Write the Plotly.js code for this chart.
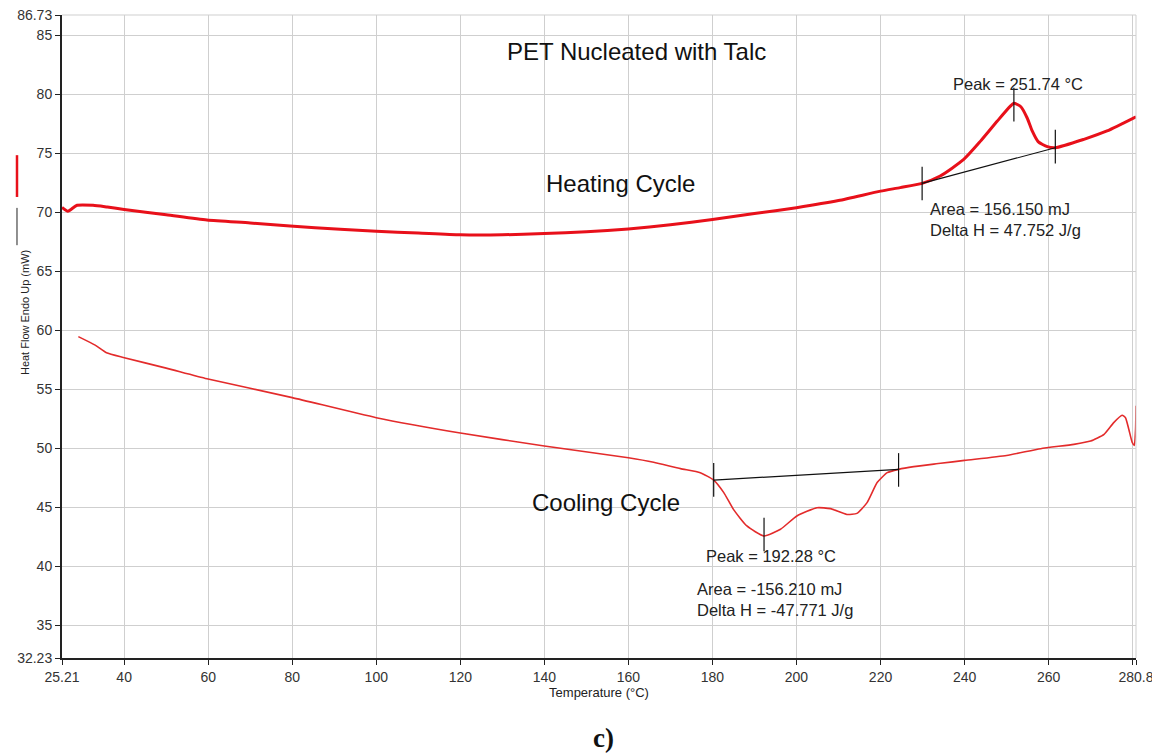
<!DOCTYPE html>
<html>
<head>
<meta charset="utf-8">
<script src="https://cdn.plot.ly/plotly-3.0.1.min.js"></script>
<style>html,body{margin:0;padding:0;background:#fff;}#chart{width:1152px;height:753px;}</style>
</head>
<body>
<div id="chart"></div>
<script>
// Heating cycle (°C, mW)
const heatT = [25.21, 26.6, 28.8, 32.6, 36, 40, 50, 59.7, 70, 79.5, 91.4, 100, 110, 120, 130, 140, 150, 160, 170, 180, 190, 200, 210, 220, 224.7, 229.9, 234.2, 239.8, 243.8, 247.8, 250.9, 251.74, 253.4, 254.9, 256.1, 257.5, 259.7, 261.6, 268.4, 273.9, 280.8];
const heatV = [70.42, 70.1, 70.6, 70.6, 70.45, 70.25, 69.8, 69.35, 69.1, 68.84, 68.56, 68.4, 68.25, 68.1, 68.1, 68.2, 68.35, 68.6, 68.95, 69.4, 69.9, 70.4, 71.0, 71.8, 72.1, 72.46, 73.08, 74.49, 76.04, 77.74, 79.0, 79.25, 78.95, 78.0, 76.9, 76.0, 75.57, 75.48, 76.19, 76.9, 78.1];
// Cooling cycle
const coolT = [29.1, 33.1, 35.8, 39.8, 50, 59.7, 80, 100, 120, 140, 160, 166, 172.4, 177.1, 180.3, 182.7, 185.0, 188.2, 192.28, 196.2, 200.1, 204.9, 208.1, 212.0, 214.4, 216.8, 219.2, 221.6, 224.3, 227.9, 234.3, 240, 250, 258.1, 266.0, 270.0, 273.2, 275.5, 277.5, 278.3, 279.1, 279.9, 280.4, 280.7, 280.8];
const coolV = [59.47, 58.75, 58.1, 57.7, 56.8, 55.9, 54.3, 52.6, 51.3, 50.2, 49.2, 48.82, 48.28, 47.94, 47.31, 46.25, 44.83, 43.42, 42.57, 43.14, 44.27, 44.97, 44.89, 44.4, 44.49, 45.4, 47.1, 47.94, 48.22, 48.45, 48.73, 48.98, 49.4, 49.97, 50.34, 50.62, 51.19, 52.18, 52.8, 52.6, 51.6, 50.5, 50.25, 51.6, 53.6];
// Integration baselines
const heatBaseT = [229.9, 261.6];
const heatBaseV = [72.46, 75.48];
const coolBaseT = [180.3, 224.3];
const coolBaseV = [47.31, 48.22];
// Limit / peak tick marks
const tickT = [229.9, 251.74, 261.6, 180.3, 192.28, 224.3];
const tickV = [72.45, 79.13, 75.57, 47.33, 42.7, 48.17];
// Axis ticks
const xTicks = [25.21, 40, 60, 80, 100, 120, 140, 160, 180, 200, 220, 240, 260, 280, 280.8];
const xTickText = ['25.21', '40', '60', '80', '100', '120', '140', '160', '180', '200', '220', '240', '260', '', '280.8'];
const yTicks = [32.23, 35, 40, 45, 50, 55, 60, 65, 70, 75, 80, 85, 86.73];
const yTickText = ['32.23', '35', '40', '45', '50', '55', '60', '65', '70', '75', '80', '85', '86.73'];

const F = 'Arial, "Liberation Sans", sans-serif';
const traces = [
  {x: heatT, y: heatV, mode: 'lines', line: {color: '#e8101a', width: 3, shape: 'spline', smoothing: 0.6}, hoverinfo: 'skip'},
  {x: coolT, y: coolV, mode: 'lines', line: {color: '#e32b2b', width: 1.6, shape: 'spline', smoothing: 0.5}, hoverinfo: 'skip'},
  {x: heatBaseT, y: heatBaseV, mode: 'lines', line: {color: '#111', width: 1.2}},
  {x: coolBaseT, y: coolBaseV, mode: 'lines', line: {color: '#111', width: 1.2}},
  {x: tickT, y: tickV, mode: 'markers', marker: {symbol: 'line-ns', size: 24, line: {color: '#111', width: 1.2}}}
];

const layout = {
  width: 1152, height: 753,
  margin: {l: 62, r: 16, t: 15, b: 95},
  paper_bgcolor: '#fff', plot_bgcolor: '#fff',
  showlegend: false,
  font: {family: F, size: 12, color: '#222'},
  xaxis: {
    range: [25.21, 280.8], tickvals: xTicks, ticktext: xTickText,
    showgrid: true, gridcolor: '#cfcfcf', gridwidth: 1,
    showline: true, linecolor: '#222', linewidth: 2,
    ticks: 'outside', ticklen: 5, tickcolor: '#222',
    ticklabeloverflow: 'allow',
    tickfont: {family: F, size: 14, color: '#333'}, zeroline: false,
    title: {text: 'Temperature (°C)', font: {family: F, size: 13, color: '#222'}, standoff: 2}
  },
  yaxis: {
    range: [32.23, 86.73], tickvals: yTicks, ticktext: yTickText,
    showgrid: true, gridcolor: '#cfcfcf', gridwidth: 1,
    showline: true, linecolor: '#222', linewidth: 2,
    ticks: 'outside', ticklen: 5, tickcolor: '#222',
    ticklabeloverflow: 'allow',
    tickfont: {family: F, size: 14, color: '#333'}, zeroline: false
  },
  shapes: [
    {type: 'line', xref: 'paper', yref: 'paper', x0: -0.0419, x1: -0.0419, y0: 0.717, y1: 0.782, line: {color: '#e8101a', width: 2.5}},
    {type: 'line', xref: 'paper', yref: 'paper', x0: -0.0419, x1: -0.0419, y0: 0.642, y1: 0.700, line: {color: '#222', width: 1}},
    {type: 'line', xref: 'paper', yref: 'paper', x0: 1, x1: 1, y0: 0, y1: 1, line: {color: '#cfcfcf', width: 1}},
    {type: 'line', xref: 'paper', yref: 'paper', x0: 0, x1: 1, y0: 1, y1: 1, line: {color: '#cfcfcf', width: 1}}
  ],
  annotations: [
    {xref: 'paper', yref: 'paper', x: -0.0419, y: 0.538, text: 'Heat Flow Endo Up (mW)', textangle: -90, showarrow: false, font: {family: F, size: 11, color: '#222'}},
    {x: 161.9, y: 83.64, text: 'PET Nucleated with Talc', showarrow: false, font: {family: F, size: 24, color: '#111'}},
    {x: 158.1, y: 72.46, text: 'Heating Cycle', showarrow: false, font: {family: F, size: 24, color: '#111'}},
    {x: 154.7, y: 45.42, text: 'Cooling Cycle', showarrow: false, font: {family: F, size: 24, color: '#111'}},
    {x: 252.8, y: 80.85, text: 'Peak = 251.74 °C', showarrow: false, font: {family: F, size: 16.5, color: '#222'}},
    {x: 231.2, y: 69.36, text: 'Area = 156.150 mJ<br>Delta H = 47.752 J/g', align: 'left', xanchor: 'left', showarrow: false, font: {family: F, size: 16.5, color: '#222'}},
    {x: 194.0, y: 40.85, text: 'Peak = 192.28 °C', showarrow: false, font: {family: F, size: 16.5, color: '#222'}},
    {x: 175.9, y: 37.16, text: 'Area = -156.210 mJ<br>Delta H = -47.771 J/g', align: 'left', xanchor: 'left', showarrow: false, font: {family: F, size: 16.5, color: '#222'}},
    {xref: 'paper', yref: 'paper', x: 0.504, y: -0.124, yanchor: 'middle', text: '<b>c)</b>', showarrow: false, font: {family: '"Times New Roman", "Liberation Serif", serif', size: 27, color: '#111'}}
  ]
};
Plotly.newPlot('chart', traces, layout, {displayModeBar: false, staticPlot: true});
</script>
</body>
</html>
